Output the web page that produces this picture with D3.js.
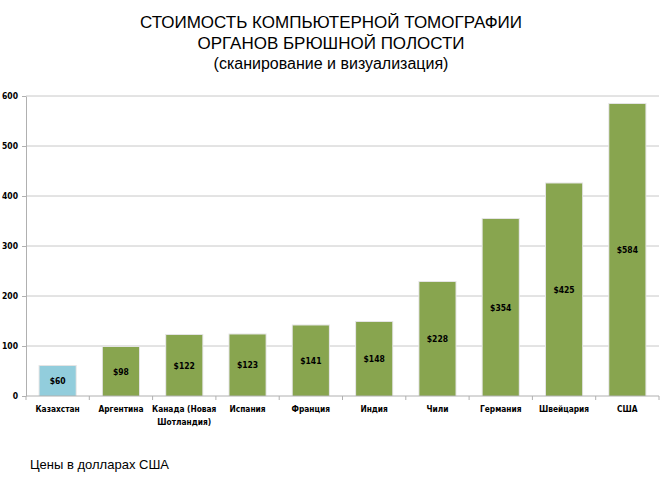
<!DOCTYPE html>
<html>
<head>
<meta charset="utf-8">
<script src="https://cdn.jsdelivr.net/npm/d3@7"></script>
<style>
  body { margin: 0; background: #fff; }
</style>
</head>
<body>
<div id="chart"></div>
<script>
// Data
const countries = ['Казахстан', 'Аргентина', 'Канада (Новая|Шотландия)', 'Испания', 'Франция',
    'Индия', 'Чили', 'Германия', 'Швейцария', 'США'];
const prices = [60, 98, 122, 123, 141, 148, 228, 354, 425, 584];
const yTicks = [0, 100, 200, 300, 400, 500, 600];
const highlight = 'Казахстан';

// Constants
const W = 663, H = 487;
const MARGIN = { LEFT: 26, RIGHT: 4, TOP: 96, BOTTOM: 91 };
const WIDTH = W - MARGIN.LEFT - MARGIN.RIGHT;
const HEIGHT = H - MARGIN.TOP - MARGIN.BOTTOM;
const LABEL_FONT = '"DejaVu Sans Condensed", "Liberation Sans", sans-serif';

const svg = d3.select('#chart')
    .append('svg')
    .attr('width', W)
    .attr('height', H);

// Title
const title = svg.append('text')
    .attr('text-anchor', 'middle')
    .attr('font-family', '"Liberation Sans", Arial, sans-serif')
    .attr('fill', '#000');
[['СТОИМОСТЬ КОМПЬЮТЕРНОЙ ТОМОГРАФИИ', 28, 17], ['ОРГАНОВ БРЮШНОЙ ПОЛОСТИ', 49, 17],
 ['(сканирование и визуализация)', 69, 16]].forEach(([t, y, s]) => {
    title.append('tspan').attr('x', 331).attr('y', y).attr('font-size', s).text(t);
});

const g = svg.append('g')
    .attr('transform', `translate(${MARGIN.LEFT}, ${MARGIN.TOP})`);

const x = d3.scaleBand()
    .domain(countries)
    .range([0, WIDTH])
    .paddingInner(0.43)
    .paddingOuter(0.215);

const y = d3.scaleLinear()
    .domain([0, 600])
    .range([HEIGHT, 0]);

// Gridlines
g.selectAll('line.grid')
    .data(yTicks.slice(1))
    .enter().append('line')
    .attr('class', 'grid')
    .attr('x1', 0).attr('x2', WIDTH)
    .attr('y1', d => y(d)).attr('y2', d => y(d))
    .attr('stroke', '#c8c8c8')
    .attr('stroke-width', 1);

// Y axis
const yAxis = g.append('g')
    .call(d3.axisLeft(y).tickValues(yTicks).tickSize(4).tickSizeOuter(0).tickPadding(4));
yAxis.select('.domain').attr('stroke', '#b0b0b0');
yAxis.selectAll('.tick line').attr('stroke', '#b0b0b0');
yAxis.selectAll('text')
    .attr('font-family', LABEL_FONT)
    .attr('font-size', 8.5)
    .attr('font-weight', 'bold')
    .attr('fill', '#000');

// Bars (with faint shadow)
const step = x.step();
g.selectAll('rect.shadow')
    .data(prices)
    .enter().append('rect')
    .attr('x', (d, i) => x(countries[i]) - 1)
    .attr('y', d => y(d) - 1)
    .attr('width', x.bandwidth() + 2)
    .attr('height', d => HEIGHT - y(d) + 1)
    .attr('fill', '#e4e4e4');

g.selectAll('rect.bar')
    .data(prices)
    .enter().append('rect')
    .attr('class', 'bar')
    .attr('x', (d, i) => x(countries[i]))
    .attr('y', d => y(d))
    .attr('width', x.bandwidth())
    .attr('height', d => HEIGHT - y(d))
    .attr('fill', (d, i) => countries[i] === highlight ? '#92cddc' : '#88a54f');

// Value labels
g.selectAll('text.val')
    .data(prices)
    .enter().append('text')
    .attr('x', (d, i) => x(countries[i]) + x.bandwidth() / 2)
    .attr('y', d => (y(d) + HEIGHT) / 2 + 3)
    .attr('text-anchor', 'middle')
    .attr('font-family', LABEL_FONT)
    .attr('font-size', 8.5)
    .attr('font-weight', 'bold')
    .attr('fill', '#000')
    .text(d => '$' + d);

// X axis
const xAxis = g.append('g')
    .attr('transform', `translate(0, ${HEIGHT})`);
xAxis.append('line')
    .attr('x1', 0).attr('x2', WIDTH)
    .attr('stroke', '#b0b0b0');
xAxis.selectAll('line.tick')
    .data(d3.range(countries.length + 1))
    .enter().append('line')
    .attr('x1', i => i * step).attr('x2', i => i * step)
    .attr('y1', 0).attr('y2', 4)
    .attr('stroke', '#b0b0b0');
const xl = xAxis.selectAll('text')
    .data(countries)
    .enter().append('text')
    .attr('text-anchor', 'middle')
    .attr('font-family', LABEL_FONT)
    .attr('font-size', 8.3)
    .attr('font-weight', 'bold')
    .attr('fill', '#000');
xl.each(function (d) {
    const cx = x(d) + x.bandwidth() / 2;
    d.split('|').forEach((line, k) => {
        d3.select(this).append('tspan')
            .attr('x', cx)
            .attr('y', 16 + k * 13)
            .text(line);
    });
});

// Footnote
svg.append('text')
    .attr('x', 30)
    .attr('y', 469)
    .attr('font-family', '"Liberation Sans", Arial, sans-serif')
    .attr('font-size', 13)
    .attr('fill', '#000')
    .text('Цены в долларах США');
</script>
</body>
</html>
